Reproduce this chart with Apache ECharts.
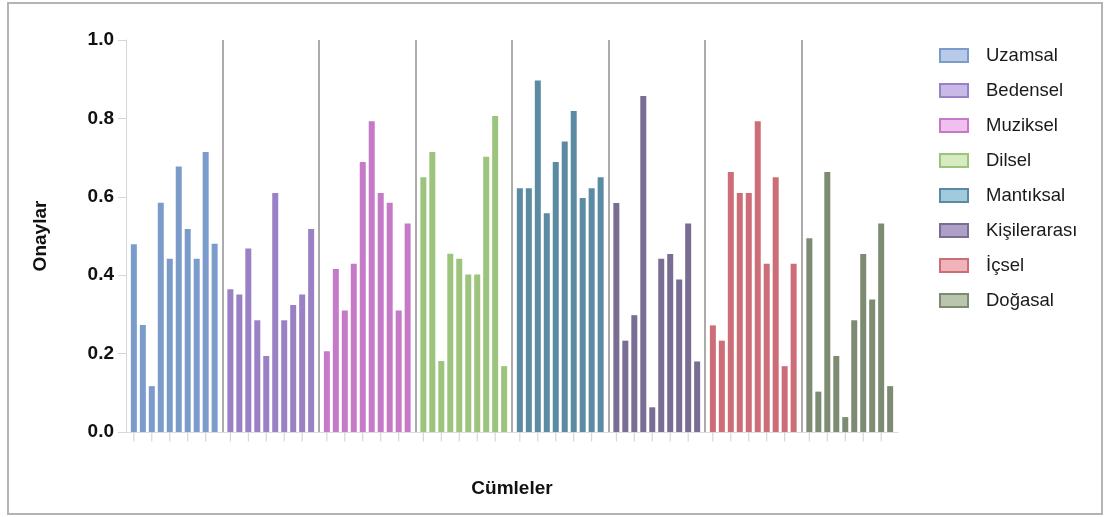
<!DOCTYPE html>
<html>
<head>
<meta charset="utf-8">
<script src="https://cdn.jsdelivr.net/npm/echarts@6/dist/echarts.min.js"></script>
<style>
html,body{margin:0;padding:0;background:#fff;}
#frame{position:absolute;left:7px;top:2px;width:1096px;height:513px;border:2px solid #b4b4b4;box-sizing:border-box;}
#chart{position:absolute;left:0;top:0;width:1105px;height:517px;}
</style>
</head>
<body>
<div id="chart"></div>
<div id="frame"></div>
<script>
const groupNames = ['Uzamsal','Bedensel','Muziksel','Dilsel','Mantıksal','Kişilerarası','İçsel','Doğasal'];
const barColors = ['#7b9bcb','#9a80c4','#c679c6','#9cc47c','#5b8ba3','#7a6d94','#cc6d77','#7c8b72'];
const legendFill = ['#b9c9e9','#c9b9e6','#efc0ef','#d6ebbf','#9fcbdc','#ad9fc6','#f0b3b9','#b9c6ad'];
const uzamsal = [0.479,0.273,0.117,0.585,0.442,0.677,0.518,0.442,0.714,0.480];
const bedensel = [0.364,0.351,0.468,0.285,0.194,0.610,0.285,0.324,0.351,0.518];
const muziksel = [0.206,0.416,0.310,0.429,0.689,0.793,0.610,0.585,0.310,0.532];
const dilsel = [0.650,0.714,0.181,0.455,0.442,0.402,0.402,0.702,0.806,0.168];
const mantiksal = [0.622,0.622,0.897,0.558,0.689,0.741,0.819,0.597,0.622,0.650];
const kisilerarasi = [0.584,0.233,0.298,0.857,0.063,0.442,0.454,0.389,0.532,0.180];
const icsel = [0.272,0.233,0.663,0.610,0.610,0.793,0.429,0.650,0.168,0.429];
const dogasal = [0.494,0.103,0.663,0.194,0.038,0.285,0.454,0.338,0.532,0.117];
const yTicks = [0.0,0.2,0.4,0.6,0.8,1.0];

const allValues = [uzamsal,bedensel,muziksel,dilsel,mantiksal,kisilerarasi,icsel,dogasal];
const GROUP_W = 10.75, OFFSET = 0.875;
const xPos = (g,k) => g*GROUP_W + OFFSET + k;

const series = allValues.map((vals,g) => ({
  name: groupNames[g],
  type: 'bar',
  barWidth: 6,
  barGap: '-100%',
  itemStyle: {color: barColors[g]},
  data: vals.map((v,k) => [xPos(g,k), v]),
  markLine: g === 0 ? {
    silent: true, symbol: 'none', label: {show:false},
    lineStyle: {color:'#ababab', width:2, type:'solid'},
    data: [1,2,3,4,5,6,7].map(i => [{coord:[i*GROUP_W,0]},{coord:[i*GROUP_W,1]}])
  } : undefined
}));

// small tick marks under the x axis
const tickData = [];
for (let g=0; g<8; g++) for (let k=0; k<10; k+=2) tickData.push([xPos(g,k),0]);
series.push({
  name: 'ticks', type: 'scatter', symbol: 'rect', symbolSize: [1,9], symbolOffset:[0,5],
  itemStyle: {color:'#c4c4c4'}, silent: true, clip: false, data: tickData, z: 1
});

const chart = echarts.init(document.getElementById('chart'), null, {renderer:'canvas'});
chart.setOption({
  animation: false,
  grid: {left:126, right:207, top:40, bottom:85, containLabel:false},
  xAxis: {
    type:'value', min:0, max:8*GROUP_W,
    name:'Cümleler', nameLocation:'middle', nameGap:47,
    nameTextStyle:{fontFamily:'Liberation Sans', fontWeight:'bold', fontSize:19, color:'#111'},
    axisLine:{show:true, lineStyle:{color:'#dcdcdc', width:1}},
    axisTick:{show:false}, axisLabel:{show:false}, splitLine:{show:false}
  },
  yAxis: {
    type:'value', min:0, max:1, interval:0.2,
    name:'Onaylar', nameLocation:'middle', nameGap:76, nameRotate:90,
    nameTextStyle:{fontFamily:'Liberation Sans', fontWeight:'bold', fontSize:19, color:'#111'},
    axisLine:{show:true, lineStyle:{color:'#d6d6d6', width:1}},
    axisTick:{show:true, length:8, lineStyle:{color:'#d6d6d6'}},
    axisLabel:{fontFamily:'Liberation Sans', fontWeight:'bold', fontSize:19, color:'#111', margin:12,
      formatter: v => yTicks.includes(Math.round(v*10)/10) ? v.toFixed(1) : ''},
    splitLine:{show:false}
  },
  legend: {
    orient:'vertical', left:939, top:46, padding:0, itemWidth:28, itemHeight:13, itemGap:16.0,
    textStyle:{fontFamily:'Liberation Sans', fontSize:18.5, color:'#1a1a1a', padding:[0,0,0,13]},
    data: groupNames.map((n,i) => ({name:n, icon:'rect',
      itemStyle:{color:legendFill[i], borderColor:barColors[i], borderWidth:2}}))
  },
  series: series
});
</script>
</body>
</html>
